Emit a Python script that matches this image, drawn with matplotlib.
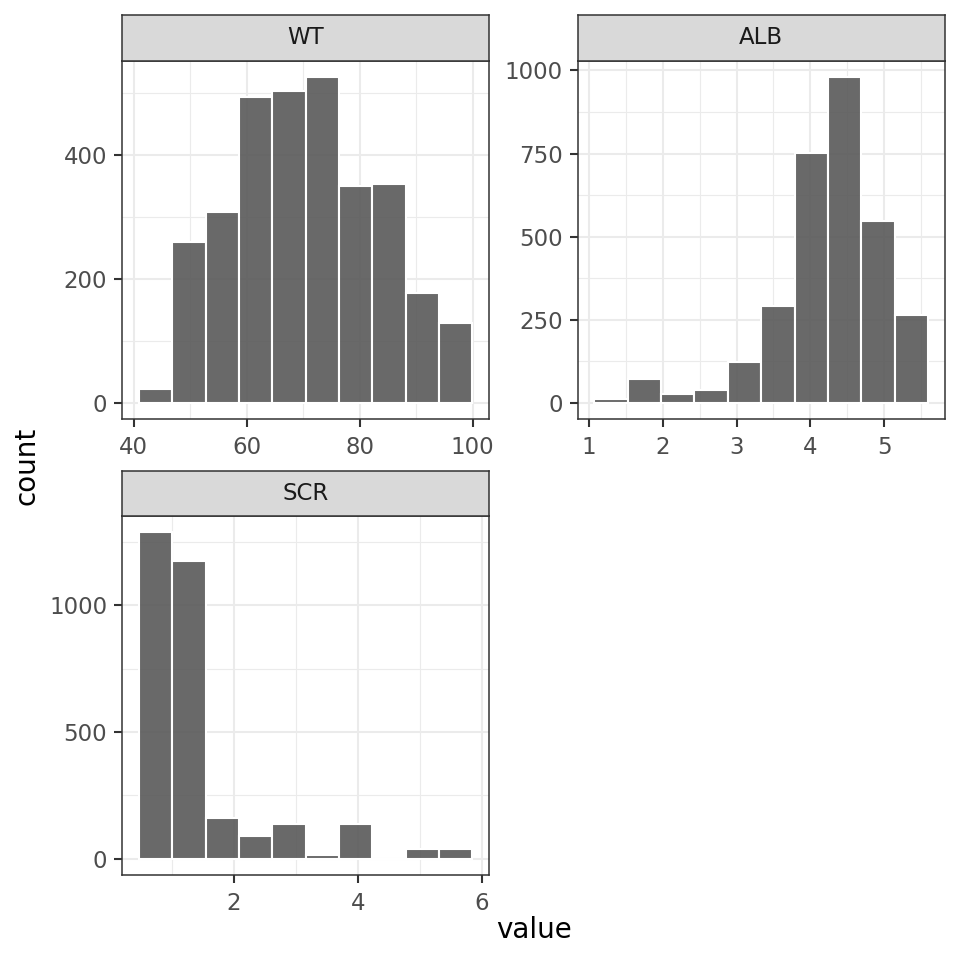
import numpy as np
import matplotlib
matplotlib.use("Agg")
import matplotlib.pyplot as plt

# === DATA (10 equal bins per variable) ===
wt_lo, wt_hi = 40.94, 99.94
wt_counts = [22, 260, 308, 493, 503, 526, 350, 354, 177, 129]

alb_lo, alb_hi = 1.073, 5.596
alb_counts = [12, 71, 26, 39, 122, 292, 751, 980, 548, 264]

scr_lo, scr_hi = 0.463, 5.848
scr_counts = [1288, 1176, 160, 88, 137, 16, 137, 0, 40, 40]

wt_xticks = [40, 60, 80, 100]
wt_yticks = [0, 200, 400]
alb_xticks = [1, 2, 3, 4, 5]
alb_yticks = [0, 250, 500, 750, 1000]
scr_xticks = [2, 4, 6]
scr_yticks = [0, 500, 1000]

# === STYLE ===
W = H = 960
FILL = (0.35, 0.35, 0.35, 0.9)
GRID = "#EBEBEB"
DARK = "#333333"
TICKLAB = "#4D4D4D"
STRIP_BG = "#D9D9D9"
TICK_FS = 16.5
TITLE_FS = 20


def px_axes(fig, left, top, right, bottom):
    return fig.add_axes([left / W, 1 - bottom / H, (right - left) / W, (bottom - top) / H])


def minor_breaks(major, lo, hi):
    step = major[1] - major[0]
    cand = [major[0] - step / 2] + [m + step / 2 for m in major]
    return [c for c in cand if lo <= c <= hi]


def draw_panel(fig, box, strip_box, label, lo, hi, counts, xticks, yticks):
    ax = px_axes(fig, *box)
    edges = np.linspace(lo, hi, len(counts) + 1)
    ax.set_axisbelow(True)
    ax.bar(edges[:-1], counts, width=np.diff(edges), align="edge",
           facecolor=FILL, edgecolor="white", linewidth=1.5, zorder=2)

    xr = hi - lo
    xlim = (lo - 0.05 * xr, hi + 0.05 * xr)
    ymax = max(counts)
    ylim = (-0.05 * ymax, 1.05 * ymax)
    ax.set_xlim(xlim)
    ax.set_ylim(ylim)

    ax.set_xticks(xticks)
    ax.set_yticks(yticks)
    ax.set_xticks(minor_breaks(xticks, *xlim), minor=True)
    ax.set_yticks(minor_breaks(yticks, *ylim), minor=True)
    ax.grid(which="major", color=GRID, linewidth=1.5)
    ax.grid(which="minor", color=GRID, linewidth=0.8)
    ax.tick_params(which="minor", length=0)
    ax.tick_params(axis="both", which="major", length=5.8, width=1.5, color=DARK,
                   labelcolor=TICKLAB, labelsize=TICK_FS)
    ax.tick_params(axis="x", pad=6.5)
    ax.tick_params(axis="y", pad=5)
    for sp in ax.spines.values():
        sp.set_color(DARK)
        sp.set_linewidth(1.1)

    st = px_axes(fig, *strip_box)
    st.set_facecolor(STRIP_BG)
    st.set_xticks([])
    st.set_yticks([])
    for sp in st.spines.values():
        sp.set_color(DARK)
        sp.set_linewidth(1.1)
    st.text(0.5, 0.5, label, transform=st.transAxes, ha="center", va="center",
            fontsize=TICK_FS, color="#1A1A1A")
    return ax


fig = plt.figure(figsize=(9.6, 9.6), dpi=100)

draw_panel(fig, (122.3, 60.7, 489, 419.3), (122.3, 15, 489, 60.7), "WT",
           wt_lo, wt_hi, wt_counts, wt_xticks, wt_yticks)
draw_panel(fig, (577.7, 60.7, 944.7, 419.3), (577.7, 15, 944.7, 60.7), "ALB",
           alb_lo, alb_hi, alb_counts, alb_xticks, alb_yticks)
draw_panel(fig, (122.3, 516, 489, 875), (122.3, 471, 489, 516), "SCR",
           scr_lo, scr_hi, scr_counts, scr_xticks, scr_yticks)

fig.text(534 / W, 1 - 938 / H, "value", ha="center", va="baseline",
         fontsize=TITLE_FS, color="black")
fig.text(35 / W, 1 - 466 / H, "count", ha="center", va="baseline", rotation=90,
         rotation_mode="anchor", fontsize=TITLE_FS, color="black")

fig.savefig("out.png", dpi=100)
plt.close(fig)
